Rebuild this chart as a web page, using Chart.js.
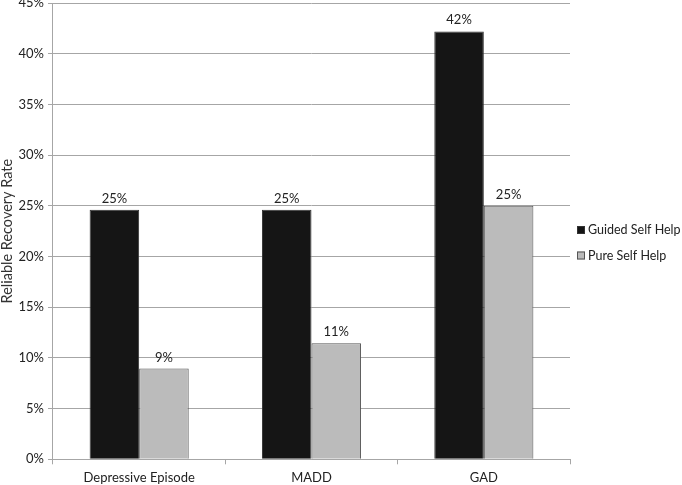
<!DOCTYPE html>
<html>
<head>
<meta charset="utf-8">
<script src="https://cdn.jsdelivr.net/npm/chart.js@4"></script>
<style>
  html, body { margin: 0; padding: 0; background: #fff; }
  #wrap { width: 682px; height: 485px; }
</style>
</head>
<body>
<div id="wrap"><canvas id="recoveryChart" width="682" height="485"></canvas></div>
<script>
const categories = ['Depressive Episode', 'MADD', 'GAD'];
const guidedSelfHelp = [24.6, 24.6, 42.2];
const pureSelfHelp = [8.95, 11.45, 25.0];
const yTicks = [0, 5, 10, 15, 20, 25, 30, 35, 40, 45];

const FONT = 'Lato';

// value labels above each bar
const barLabels = {
    id: 'barLabels',
    afterDatasetsDraw(chart) {
        const ctx = chart.ctx;
        ctx.save();
        ctx.font = '13px ' + FONT;
        ctx.fillStyle = '#222';
        ctx.textAlign = 'center';
        ctx.textBaseline = 'alphabetic';
        chart.data.datasets.forEach((ds, i) => {
            chart.getDatasetMeta(i).data.forEach((bar, j) => {
                ctx.fillText(Math.round(ds.data[j]) + '%', bar.x, bar.y - 7);
            });
        });
        ctx.restore();
    }
};

// legend drawn at the right, like the original
const sideLegend = {
    id: 'sideLegend',
    afterDraw(chart) {
        const ctx = chart.ctx;
        ctx.save();
        ctx.font = '12.5px ' + FONT;
        ctx.textBaseline = 'middle';
        ctx.textAlign = 'left';
        chart.data.datasets.forEach((ds, i) => {
            const y = 230 + i * 25.5;
            const x = 577;
            ctx.fillStyle = ds.backgroundColor;
            ctx.fillRect(x, y - 4, 8, 8);
            ctx.strokeStyle = ds.borderColor;
            ctx.lineWidth = 1;
            ctx.strokeRect(x + 0.5, y - 3.5, 7, 7);
            ctx.fillStyle = '#222';
            ctx.fillText(ds.label, x + 11, y);
        });
        ctx.restore();
    }
};

const ctx = document.getElementById('recoveryChart').getContext('2d');
new Chart(ctx, {
    type: 'bar',
    data: {
        labels: categories,
        datasets: [{
            label: 'Guided Self Help',
            data: guidedSelfHelp,
            backgroundColor: '#151515',
            borderColor: '#333',
            borderWidth: 1
        }, {
            label: 'Pure Self Help',
            data: pureSelfHelp,
            backgroundColor: '#bbbbbb',
            borderColor: '#555',
            borderWidth: 1
        }]
    },
    options: {
        responsive: false,
        animation: false,
        layout: {
            padding: { left: 0, right: 112, top: 3, bottom: 0 }
        },
        datasets: {
            bar: { categoryPercentage: 0.575, barPercentage: 1 }
        },
        plugins: {
            legend: { display: false },
            tooltip: { enabled: false }
        },
        scales: {
            x: {
                afterFit: (scale) => { scale.height = 25.7; },
                grid: {
                    offset: true,
                    drawOnChartArea: false,
                    color: '#a6a6a6',
                    tickLength: 5
                },
                border: { color: '#a6a6a6' },
                ticks: {
                    color: '#222',
                    font: { family: FONT, size: 13 },
                    padding: 6
                }
            },
            y: {
                min: 0,
                max: 45,
                afterBuildTicks: (scale) => {
                    scale.ticks = yTicks.map(v => ({ value: v }));
                },
                afterFit: (scale) => {
                    // let the top label be cut like in the original
                    scale.paddingTop = 0;
                    scale.paddingBottom = 0;
                },
                grid: { color: '#a6a6a6', tickLength: 5 },
                border: { color: '#a6a6a6' },
                ticks: {
                    color: '#222',
                    font: { family: FONT, size: 13 },
                    padding: 4,
                    callback: (value) => value + '%'
                },
                title: {
                    display: true,
                    text: 'Reliable Recovery Rate',
                    color: '#333',
                    font: { family: FONT, size: 14.5, lineHeight: 1 },
                    padding: { top: 0, bottom: 0 }
                }
            }
        }
    },
    plugins: [barLabels, sideLegend]
});
</script>
</body>
</html>
